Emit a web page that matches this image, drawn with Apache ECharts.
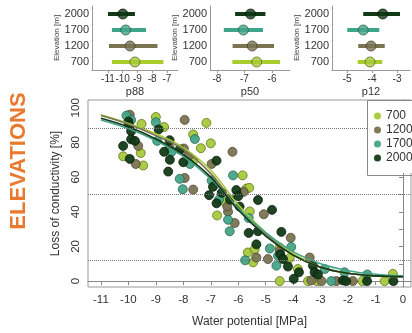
<!DOCTYPE html>
<html><head><meta charset="utf-8">
<script src="https://cdn.jsdelivr.net/npm/echarts@6/dist/echarts.min.js"></script>
<style>html,body{margin:0;padding:0;background:#fff}#c{width:412px;height:333px}</style>
</head><body><div id="c"></div>
<script>
// ---------- data ----------
const elevations = ['700', '1200', '1700', '2000'];
const fillColors = ['#a6c93a', '#7a7452', '#45a487', '#123a17'];
const edgeColors = ['#5d6e1c', '#4a4530', '#24634f', '#071a09'];
const barColors  = ['#aacd2e', '#7a7452', '#3fa58a', '#133a16'];

// scatter: [water potential MPa, loss of conductivity %]
const pts700 = [[-9.52,90.7],[-9.0,94.7],[-8.7,88.9],[-7.16,91.3],[-7.64,84.6],[-7.0,79.5],[-7.36,76.7],[-9.55,73.9],[-10.19,72],[-9.46,66.7],[-7.64,69.5],[-5.84,61],[-5.7,53.4],[-5.6,53.8],[-6.77,37.9],[-6.5,46],[-5.65,16.5],[-5.58,40.2],[-5.4,18.4],[-5.46,10.8],[-4.49,19.3],[-4.13,13.2],[-3.83,7],[-4.49,0],[-3.46,0],[-3.13,0],[-1.48,0],[-0.67,0],[-0.37,4.2]];
const pts1200 = [[-9.95,96],[-7.95,93],[-6.21,74.6],[-9.64,78],[-9.73,67.6],[-8.5,77],[-7.98,76.5],[-7.82,72],[-6.97,67.6],[-7.95,59.5],[-7.64,52.8],[-6.37,40],[-6.4,43],[-6.13,33.5],[-5.8,51.5],[-5.07,38.6],[-5.34,13.6],[-4.92,12.7],[-4.09,25],[-4.49,17.4],[-3.4,13.6],[-3.34,0.4],[-2.97,0],[-2.43,0],[-1.83,0]];
const pts1700 = [[-10.07,95.5],[-9.9,93],[-9.0,91.7],[-7.58,82],[-8.95,80.9],[-8.43,74.6],[-7.76,67.6],[-8.13,59],[-8.02,53],[-6.97,58],[-6.19,61],[-6.7,47],[-6.37,35.4],[-6.31,28.8],[-5.75,12],[-5.62,36.4],[-4.07,19.7],[-4.85,18.8],[-4.55,14.6],[-4.61,8.9],[-2.85,7],[-2.61,0],[-2.13,5.1],[-1.3,3.8]];
const pts2000 = [[-10.0,92],[-9.97,90],[-8.9,87.5],[-9.9,86.5],[-9.9,81.8],[-9.76,80.9],[-10.19,78],[-9.95,70.5],[-8.5,81.3],[-8.7,74.6],[-8.13,76],[-8.49,70],[-8.0,68.6],[-6.79,69.5],[-8.55,63.2],[-6.92,54.4],[-6.07,52.5],[-7.06,49.6],[-6.6,51],[-6.3,47],[-6.0,49],[-6.79,44.9],[-5.95,43],[-5.62,27.8],[-5.28,46.8],[-4.77,41.1],[-5.28,28.8],[-5.34,21.2],[-4.43,28.4],[-4.47,15.5],[-4.37,12.7],[-4.19,8.4],[-3.79,5.1],[-3.28,8.9],[-3.22,5.1],[-3.1,3.8],[-3.98,1.3],[-2.19,0.4],[-2.07,0],[-1.31,0],[-0.35,0]];

// fitted curves
const curveX    = [-11, -10, -9, -8, -7, -6, -5, -4, -3, -2, -1, 0];
const curve700  = [96, 91, 85, 77, 64, 44, 28, 16, 8, 4.5, 3, 2.5];
const curve1200 = [95.5, 90.5, 84, 76, 62, 42, 27, 15, 8, 4.5, 3, 2.5];
const curve1700 = [93, 88, 81, 72, 59, 42, 28, 17, 10, 6, 4, 3];
const curve2000 = [94, 89, 82, 73, 60, 41, 26, 15, 8, 4.5, 3, 2.5];

// p88 / p50 / p12 (mean, low, high) per elevation 700,1200,1700,2000
const p88Mean = [-9.17, -9.5, -9.8, -9.99];
const p88Low  = [-10.73, -10.93, -10.73, -11.0];
const p88High = [-7.24, -7.64, -8.42, -9.17];
const p50Mean = [-6.56, -6.72, -7.04, -6.78];
const p50Low  = [-7.44, -7.43, -7.75, -7.34];
const p50High = [-5.71, -5.93, -6.33, -6.24];
const p12Mean = [-4.08, -4.04, -4.35, -3.57];
const p12Low  = [-4.57, -4.55, -4.99, -4.35];
const p12High = [-3.59, -3.49, -3.71, -2.88];

const p88Ticks = [-11, -10, -9, -8, -7];
const p50Ticks = [-8, -7, -6];
const p12Ticks = [-5, -4, -3];
const xTicks = [-11, -10, -9, -8, -7, -6, -5, -4, -3, -2, -1, 0];
const yTicks = [0, 10, 20, 30, 40, 50, 60, 70, 80, 90, 100];
const yLabels = [0, 20, 40, 60, 80, 100];
const thresholds = [88, 50, 12];

// ---------- chart ----------
const FONT = 'Liberation Sans, Arial, sans-serif';
const chart = echarts.init(document.getElementById('c'), null, {renderer: 'canvas'});
const ptsAll = [pts700, pts1200, pts1700, pts2000];
const curvesAll = [curve700, curve1200, curve1700, curve2000];

const panels = [
  {name: 'p88', mean: p88Mean, low: p88Low, high: p88High, ticks: p88Ticks, min: -12.08, max: -6.25, left: 92, width: 86},
  {name: 'p50', mean: p50Mean, low: p50Low, high: p50High, ticks: p50Ticks, min: -8.25, max: -5.35, left: 210, width: 80},
  {name: 'p12', mean: p12Mean, low: p12Low, high: p12High, ticks: p12Ticks, min: -5.6, max: -2.48, left: 332, width: 78}
];

const grids = [{left: 88, top: 100, width: 323, height: 190, show: true, borderColor: '#999', borderWidth: 1}];
const xAxes = [{
  type: 'value', gridIndex: 0, min: -11.47, max: 0.29,
  axisLine: {show: true, lineStyle: {color: '#888'}},
  axisTick: {show: true, length: 4, customValues: xTicks, lineStyle: {color: '#888'}},
  axisLabel: {customValues: xTicks, fontSize: 11.5, color: '#333', margin: 7, fontFamily: FONT},
  splitLine: {show: false},
  name: 'Water potential [MPa]', nameLocation: 'middle', nameGap: 29,
  nameTextStyle: {fontSize: 12, color: '#333', fontFamily: FONT}
}];
const yAxes = [{
  type: 'value', gridIndex: 0, min: -3.4, max: 104.5,
  axisLine: {show: true, lineStyle: {color: '#888'}},
  axisTick: {show: true, length: 4, customValues: yTicks, lineStyle: {color: '#888'}},
  axisLabel: {customValues: yLabels, rotate: 90, fontSize: 11.5, color: '#333', margin: 6, fontFamily: FONT},
  splitLine: {show: false},
  name: 'Loss of conductivity [%]', nameLocation: 'middle', nameGap: 22, nameRotate: 90,
  nameTextStyle: {fontSize: 12, color: '#333', fontFamily: FONT}
}];

panels.forEach((p, i) => {
  grids.push({left: p.left, top: 6, width: p.width, height: 64});
  xAxes.push({
    type: 'value', gridIndex: i + 1, min: p.min, max: p.max,
    axisLine: {show: true, lineStyle: {color: '#999'}},
    axisTick: {show: true, length: 3, customValues: p.ticks, lineStyle: {color: '#999'}},
    axisLabel: {customValues: p.ticks, fontSize: 10, color: '#333', margin: 4, fontFamily: FONT},
    splitLine: {show: false},
    name: p.name, nameLocation: 'middle', nameGap: 16,
    nameTextStyle: {fontSize: 11, color: '#333', fontFamily: FONT}
  });
  yAxes.push({
    type: 'category', gridIndex: i + 1, data: elevations,
    axisLine: {show: true, lineStyle: {color: '#999'}},
    axisTick: {show: false},
    axisLabel: {fontSize: 11, color: '#333', margin: 3, fontFamily: FONT},
    name: 'Elevation [m]', nameLocation: 'middle', nameGap: 26, nameRotate: 90,
    nameTextStyle: {fontSize: 8, color: '#444', fontFamily: FONT}
  });
});

const series = [];
elevations.forEach((e, k) => {
  series.push({
    type: 'scatter', name: e, xAxisIndex: 0, yAxisIndex: 0,
    data: ptsAll[k], symbolSize: 9, z: 2,
    itemStyle: {color: fillColors[k], borderColor: edgeColors[k], borderWidth: 0.8, opacity: 0.95}
  });
});
elevations.forEach((e, k) => {
  series.push({
    type: 'line', name: e, xAxisIndex: 0, yAxisIndex: 0,
    data: curveX.map((x, j) => [x, curvesAll[k][j]]),
    smooth: 0.4, showSymbol: false, z: 3, silent: true,
    lineStyle: {color: fillColors[k], width: 1.6}
  });
});
// threshold lines
series.push({
  type: 'line', name: 'thr', xAxisIndex: 0, yAxisIndex: 0, data: [], silent: true,
  markLine: {
    silent: true, symbol: ['none', 'none'], label: {show: false},
    lineStyle: {type: 'dotted', color: '#777', width: 1},
    data: thresholds.map(v => ({yAxis: v}))
  }
});
panels.forEach((p, i) => {
  elevations.forEach((e, k) => {
    series.push({
      type: 'line', name: p.name + '-' + e, xAxisIndex: i + 1, yAxisIndex: i + 1,
      data: [[p.low[k], e], [p.high[k], e]], showSymbol: false, silent: true,
      lineStyle: {color: barColors[k], width: 4, cap: 'butt'}
    });
  });
  series.push({
    type: 'scatter', name: p.name + '-mean', xAxisIndex: i + 1, yAxisIndex: i + 1,
    symbolSize: 10, z: 4,
    data: elevations.map((e, k) => ({value: [p.mean[k], e], itemStyle: {color: fillColors[k], borderColor: edgeColors[k], borderWidth: 1}}))
  });
});

chart.setOption({
  animation: false,
  backgroundColor: '#fff',
  textStyle: {fontFamily: FONT},
  grid: grids, xAxis: xAxes, yAxis: yAxes, series: series,
  legend: {
    data: elevations.map(e => ({name: e, icon: 'circle', itemStyle: {borderWidth: 0}})),
    orient: 'vertical', left: 368, top: 101, z: 10,
    itemWidth: 7, itemHeight: 7, itemGap: 2,
    padding: [9, 2, 9, 6],
    borderWidth: 0, backgroundColor: '#fff',
    textStyle: {fontSize: 12, color: '#333', fontFamily: FONT}
  },
  graphic: [{
    type: 'rect', z: 100, shape: {x: 367.5, y: 100.5, width: 60, height: 75},
    style: {fill: 'none', stroke: '#888', lineWidth: 1}
  }, {
    type: 'text', x: 19, y: 161, rotation: Math.PI / 2,
    style: {text: 'ELEVATIONS', fill: '#e8792e', font: 'bold 22px ' + FONT, textAlign: 'center', textVerticalAlign: 'middle'}
  }]
});
</script></body></html>
